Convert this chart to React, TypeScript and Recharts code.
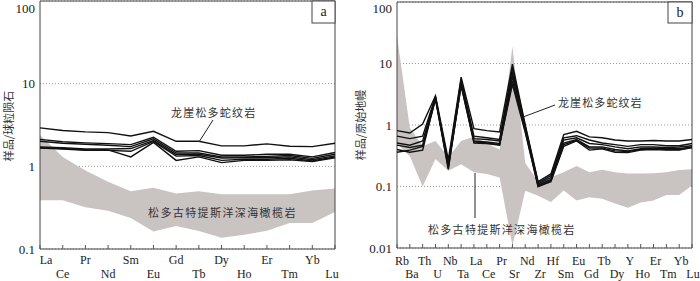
import React from "react";
import {
  ComposedChart,
  Area,
  Line,
  XAxis,
  YAxis,
  CartesianGrid,
  ReferenceArea,
} from "recharts";

// chondrite-normalised REE (panel a)
const REE = ["La", "Ce", "Pr", "Nd", "Sm", "Eu", "Gd", "Tb", "Dy", "Ho", "Er", "Tm", "Yb", "Lu"];
const reeBandLow = [0.39, 0.39, 0.32, 0.29, 0.237, 0.163, 0.19, 0.165, 0.137, 0.149, 0.166, 0.206, 0.206, 0.28];
const reeBandHigh = [2.4, 1.3, 0.89, 0.65, 0.5, 0.55, 0.47, 0.5, 0.46, 0.46, 0.46, 0.46, 0.51, 0.54];
const reeS1 = [2.92, 2.71, 2.61, 2.56, 2.33, 2.65, 2.01, 2.01, 1.77, 1.77, 1.87, 1.75, 1.73, 1.9];
const reeS2 = [2.12, 1.98, 1.92, 1.88, 1.83, 2.25, 1.52, 1.55, 1.36, 1.36, 1.4, 1.4, 1.3, 1.47];
const reeS3 = [2.01, 1.9, 1.85, 1.8, 1.73, 2.15, 1.45, 1.45, 1.3, 1.3, 1.32, 1.35, 1.25, 1.4];
const reeS4 = [1.72, 1.68, 1.62, 1.62, 1.64, 2.05, 1.39, 1.4, 1.26, 1.27, 1.27, 1.3, 1.2, 1.34];
const reeS5 = [1.66, 1.62, 1.56, 1.56, 1.52, 2.0, 1.33, 1.35, 1.18, 1.22, 1.22, 1.25, 1.16, 1.3];
const reeS6 = [1.68, 1.64, 1.58, 1.58, 1.3, 1.95, 1.18, 1.3, 1.11, 1.18, 1.18, 1.2, 1.14, 1.27];

// primitive-mantle-normalised trace elements (panel b)
const TRACE = ["Rb", "Ba", "Th", "U", "Nb", "Ta", "La", "Ce", "Pr", "Sr", "Nd", "Zr", "Hf", "Sm", "Eu", "Gd", "Tb", "Dy", "Y", "Ho", "Er", "Tm", "Yb", "Lu"];
const trBandLow = [0.5, 0.31, 0.1, 0.28, 0.18, 0.23, 0.17, 0.16, 0.14, 0.011, 0.085, 0.071, 0.056, 0.086, 0.059, 0.067, 0.063, 0.053, 0.045, 0.055, 0.059, 0.073, 0.073, 0.104];
const trBandHigh = [28, 0.9, 0.45, 0.55, 0.3, 0.55, 0.65, 0.5, 0.4, 19, 0.24, 0.12, 0.141, 0.17, 0.216, 0.17, 0.187, 0.17, 0.163, 0.163, 0.165, 0.17, 0.185, 0.19];
const trS1 = [0.81, 0.74, 1.04, 3.0, 0.27, 6.0, 0.87, 0.81, 0.77, 9.8, 1.0, 0.12, 0.16, 0.7, 0.79, 0.64, 0.62, 0.57, 0.55, 0.55, 0.56, 0.55, 0.55, 0.58];
const trS2 = [0.66, 0.6, 0.66, 2.9, 0.24, 5.5, 0.66, 0.62, 0.58, 8.5, 0.95, 0.115, 0.15, 0.62, 0.67, 0.57, 0.51, 0.48, 0.45, 0.48, 0.48, 0.46, 0.46, 0.5];
const trS3 = [0.51, 0.47, 0.55, 2.8, 0.22, 5.1, 0.6, 0.58, 0.55, 7.2, 0.9, 0.11, 0.14, 0.57, 0.62, 0.5, 0.48, 0.44, 0.41, 0.44, 0.44, 0.43, 0.44, 0.46];
const trS4 = [0.47, 0.43, 0.47, 2.7, 0.2, 4.8, 0.55, 0.53, 0.5, 6.2, 0.85, 0.105, 0.13, 0.51, 0.58, 0.44, 0.44, 0.4, 0.38, 0.41, 0.42, 0.41, 0.41, 0.44];
const trS5 = [0.36, 0.39, 0.45, 2.6, 0.19, 4.5, 0.51, 0.5, 0.47, 5.2, 0.8, 0.1, 0.12, 0.45, 0.55, 0.39, 0.41, 0.36, 0.355, 0.39, 0.4, 0.39, 0.39, 0.43];
const trS6 = [0.4, 0.36, 0.39, 2.7, 0.21, 4.3, 0.53, 0.51, 0.48, 4.6, 0.75, 0.1, 0.125, 0.48, 0.56, 0.42, 0.42, 0.38, 0.37, 0.4, 0.41, 0.4, 0.4, 0.43];

const SERIES_KEYS = ["s1", "s2", "s3", "s4", "s5", "s6"];
const SERIF = "'Liberation Serif', 'Times New Roman', serif";
const CJK = "'Noto Sans CJK SC', sans-serif";
const BAND_FILL = "#c9c3c1";

function buildRows(cats: string[], low: number[], high: number[], series: number[][]) {
  return cats.map((name, i) => {
    const row: Record<string, any> = { name, band: [low[i], high[i]] };
    series.forEach((s, k) => {
      row[SERIES_KEYS[k]] = s[i];
    });
    return row;
  });
}

const reeRows = buildRows(REE, reeBandLow, reeBandHigh, [reeS1, reeS2, reeS3, reeS4, reeS5, reeS6]);
const traceRows = buildRows(TRACE, trBandLow, trBandHigh, [trS1, trS2, trS3, trS4, trS5, trS6]);

function StaggerTick(props: any) {
  const { x, y, payload, index, count, dxFirst, dxLast, dxAll, row1, row2 } = props;
  let dx = dxAll;
  if (index === 0) dx = dxFirst;
  if (index === count - 1) dx = dxLast;
  return (
    <g>
      <line x1={x} y1={y} x2={x} y2={y - 4} stroke="#555" strokeWidth={1} />
      <text
        x={x + dx}
        y={y + (index % 2 === 0 ? row1 : row2)}
        textAnchor="middle"
        fontFamily={SERIF}
        fontSize={12}
        fill="#222"
      >
        {payload.value}
      </text>
    </g>
  );
}

interface PanelProps {
  rows: Record<string, any>[];
  cats: string[];
  width: number;
  top: number;
  axisHeight: number;
  yWidth: number;
  right: number;
  domain: [number, number];
  ticks: number[];
  tickOpts: { dxFirst: number; dxLast: number; dxAll: number; row1: number; row2: number };
}

function Panel({ rows, cats, width, top, axisHeight, yWidth, right, domain, ticks, tickOpts }: PanelProps) {
  return (
    <ComposedChart
      width={width}
      height={281}
      data={rows}
      margin={{ top, right, bottom: 0, left: 0 }}
    >
      <CartesianGrid horizontal vertical={false} stroke="#999" strokeDasharray="1 2" />
      <XAxis
        dataKey="name"
        interval={0}
        height={axisHeight}
        axisLine={false}
        tickLine={false}
        tickSize={0}
        tickMargin={0}
        padding={{ left: 0, right: 0 }}
        tick={(p: any) => <StaggerTick {...p} count={cats.length} {...tickOpts} />}
      />
      <YAxis
        type="number"
        scale="log"
        domain={domain}
        ticks={ticks}
        allowDataOverflow
        width={yWidth}
        axisLine={false}
        tickLine={false}
        tickSize={0}
        tickMargin={5}
        tickFormatter={(v: number) => String(v)}
        tick={{ fill: "#222", fontSize: 13, fontFamily: SERIF }}
      />
      <Area
        dataKey="band"
        type="linear"
        fill={BAND_FILL}
        fillOpacity={1}
        stroke="none"
        isAnimationActive={false}
      />
      {SERIES_KEYS.map((k) => (
        <Line
          key={k}
          dataKey={k}
          type="linear"
          stroke="#111"
          strokeWidth={1.4}
          dot={false}
          isAnimationActive={false}
        />
      ))}
      <ReferenceArea
        x1={cats[0]}
        x2={cats[cats.length - 1]}
        y1={domain[0]}
        y2={domain[1]}
        fill="none"
        stroke="#444"
        strokeWidth={1}
        ifOverflow="visible"
      />
    </ComposedChart>
  );
}

export default function App() {
  return (
    <div style={{ position: "absolute", left: 0, top: 0, width: 700, height: 281, background: "#fff" }}>
      <div style={{ position: "absolute", left: 0, top: 0 }}>
        <Panel
          rows={reeRows}
          cats={REE}
          width={345}
          top={1}
          axisHeight={32}
          yWidth={40}
          right={10}
          domain={[0.1, 100]}
          ticks={[0.1, 1, 10, 100]}
          tickOpts={{ dxFirst: 6, dxLast: -3, dxAll: 0, row1: 15, row2: 29 }}
        />
      </div>
      <div style={{ position: "absolute", left: 350, top: 0 }}>
        <Panel
          rows={traceRows}
          cats={TRACE}
          width={350}
          top={2}
          axisHeight={33}
          yWidth={47}
          right={8}
          domain={[0.01, 100]}
          ticks={[0.01, 0.1, 1, 10, 100]}
          tickOpts={{ dxFirst: 5, dxLast: 1, dxAll: 2, row1: 17, row2: 30 }}
        />
      </div>
      <svg
        width={700}
        height={281}
        style={{ position: "absolute", left: 0, top: 0, pointerEvents: "none" }}
      >
        {/* panel a annotations */}
        <text
          transform="translate(8,126) rotate(-90)"
          textAnchor="middle"
          dominantBaseline="central"
          fontFamily={CJK}
          fontSize={11}
          fill="#333"
        >
          样品/球粒陨石
        </text>
        <rect x={312} y={1} width={23} height={22} fill="#fff" stroke="#444" strokeWidth={1} />
        <text x={323.5} y={16} textAnchor="middle" fontFamily={SERIF} fontSize={14} fill="#222">
          a
        </text>
        <text x={171} y={117} fontFamily={CJK} fontSize={11} letterSpacing={1.2} fill="#333">
          龙崖松多蛇纹岩
        </text>
        <line x1={213} y1={120} x2={199} y2={142} stroke="#222" strokeWidth={1} />
        <text x={148} y={217} fontFamily={CJK} fontSize={11} letterSpacing={1.4} fill="#333">
          松多古特提斯洋深海橄榄岩
        </text>

        {/* panel b annotations */}
        <text
          transform="translate(360,125) rotate(-90)"
          textAnchor="middle"
          dominantBaseline="central"
          fontFamily={CJK}
          fontSize={11}
          fill="#333"
        >
          样品/原始地幔
        </text>
        <rect x={668} y={2} width={24} height={21} fill="#fff" stroke="#444" strokeWidth={1} />
        <text x={680} y={17} textAnchor="middle" fontFamily={SERIF} fontSize={14} fill="#222">
          b
        </text>
        <text x={558} y={107} fontFamily={CJK} fontSize={11} letterSpacing={1.1} fill="#333">
          龙崖松多蛇纹岩
        </text>
        <line x1={555} y1={105} x2={523} y2={117} stroke="#222" strokeWidth={1} />
        <line x1={475} y1={173} x2={475} y2={218} stroke="#222" strokeWidth={1} />
        <text x={428} y={234} fontFamily={CJK} fontSize={11} letterSpacing={1.3} fill="#333">
          松多古特提斯洋深海橄榄岩
        </text>
      </svg>
    </div>
  );
}
